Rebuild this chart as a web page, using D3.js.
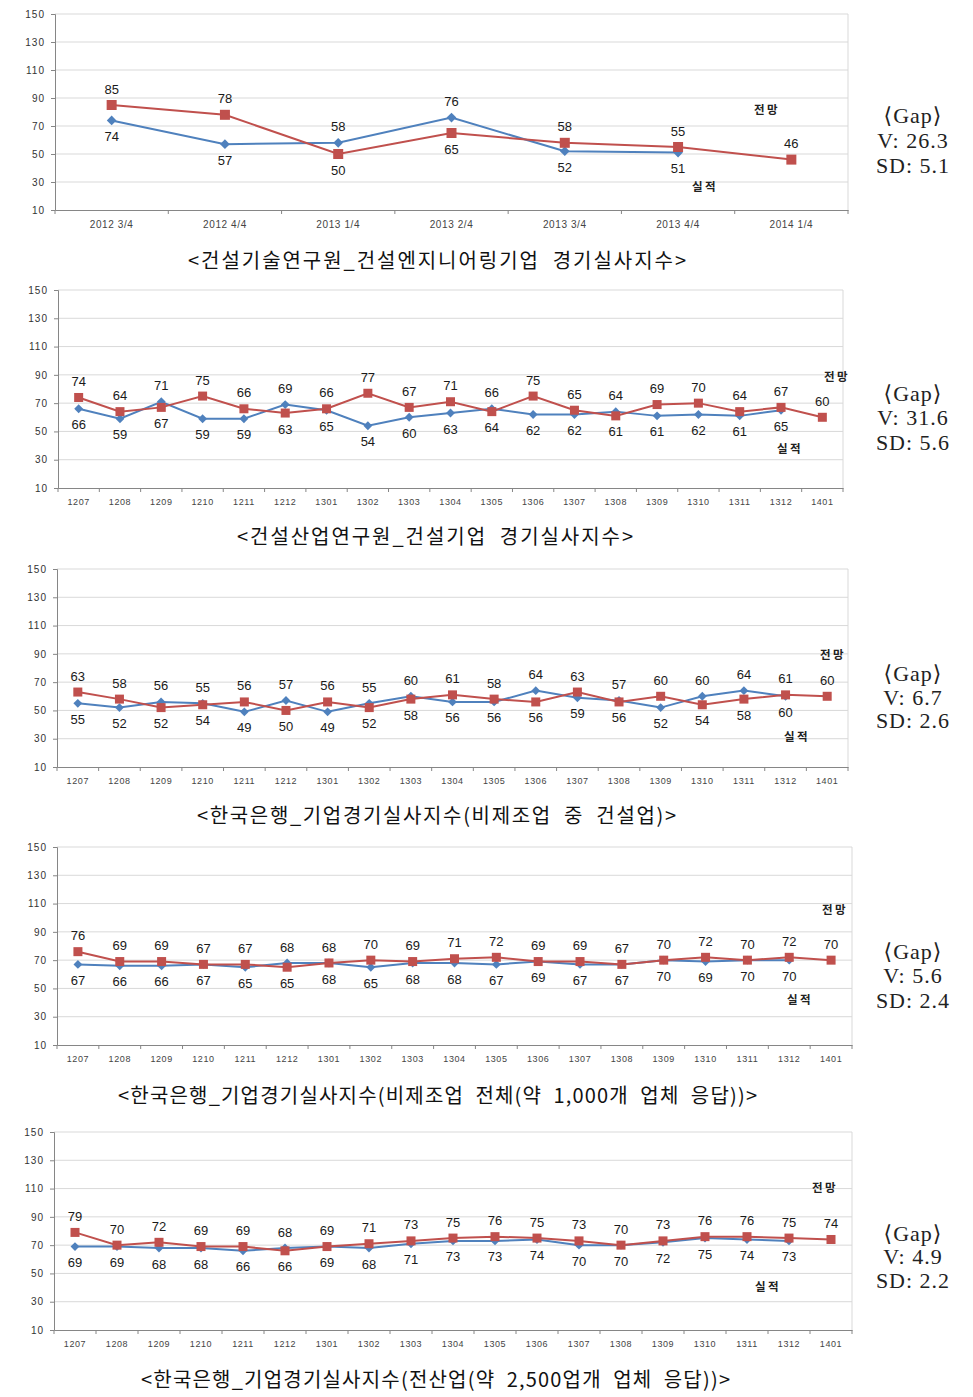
<!DOCTYPE html>
<html><head><meta charset="utf-8">
<script src="https://cdn.jsdelivr.net/npm/d3@7"></script>
<style>body{margin:0;background:#fff}</style>
</head><body><svg id="c" width="973" height="1397"></svg>
<script>
// ---------- DATA ----------
const quarters = ["2012 3/4","2012 4/4","2013 1/4","2013 2/4","2013 3/4","2013 4/4","2014 1/4"];
const months = ["1207","1208","1209","1210","1211","1212","1301","1302","1303","1304","1305","1306","1307","1308","1309","1310","1311","1312","1401"];
const yTicks = [10,30,50,70,90,110,130,150];

const p1Forecast = [85,78,50,65,58,55,46];
const p1Actual   = [74,57,58,76,52,51];

const p2Forecast = [74,64,67,75,66,63,66,77,67,71,64,75,65,61,69,70,64,67,60];
const p2Actual   = [66,59,71,59,59,69,65,54,60,63,66,62,62,64,61,62,61,65];

const p3Forecast = [63,58,52,54,56,50,56,52,58,61,58,56,63,56,60,54,58,61,60];
const p3Actual   = [55,52,56,55,49,57,49,55,60,56,56,64,59,57,52,60,64,60];

const p4Forecast = [76,69,69,67,67,65,68,70,69,71,72,69,69,67,70,72,70,72,70];
const p4Actual   = [67,66,66,67,65,68,68,65,68,68,67,69,67,67,70,69,70,70];

const p5Forecast = [79,70,72,69,69,66,69,71,73,75,76,75,73,70,73,76,76,75,74];
const p5Actual   = [69,69,68,68,66,68,69,68,71,73,73,74,70,70,72,75,74,73];

const captions = [
  "<건설기술연구원_건설엔지니어링기업  경기실사지수>",
  "<건설산업연구원_건설기업  경기실사지수>",
  "<한국은행_기업경기실사지수(비제조업  중  건설업)>",
  "<한국은행_기업경기실사지수(비제조업  전체(약  1,000개  업체  응답))>",
  "<한국은행_기업경기실사지수(전산업(약  2,500업개  업체  응답))>"
];
const gapV  = ["26.3","31.6","6.7","5.6","4.9"];
const gapSD = ["5.1","5.6","2.6","2.4","2.2"];
const seriesNames = ["전망","실적"];

// ---------- LAYOUT ----------
const panels = [
  {cats:quarters, fc:p1Forecast, ac:p1Actual, x0:55, x1:848, yTop:14,  yBot:210, capY:261,  cap:[188,686], fcL:[767,110],  acL:[705,187],  gapY:[115,140,165], tickFont:10},
  {cats:months,   fc:p2Forecast, ac:p2Actual, x0:58, x1:843, yTop:290, yBot:488, capY:537,  cap:[237,633], fcL:[837,377],  acL:[790,449],  gapY:[393,417,442], tickFont:9},
  {cats:months,   fc:p3Forecast, ac:p3Actual, x0:57, x1:848, yTop:569, yBot:767, capY:816,  cap:[197,676], fcL:[833,655],  acL:[797,737],  gapY:[673,697,720], tickFont:9},
  {cats:months,   fc:p4Forecast, ac:p4Actual, x0:57, x1:852, yTop:847, yBot:1045,capY:1096, cap:[118,757], fcL:[835,910],  acL:[800,1000], gapY:[951,975,1000], tickFont:9},
  {cats:months,   fc:p5Forecast, ac:p5Actual, x0:54, x1:852, yTop:1132,yBot:1330,capY:1380, cap:[141,730], fcL:[825,1188], acL:[768,1287], gapY:[1233,1256,1280], tickFont:9}
];

const RED = "#C0504D", BLUE = "#4F81BD";
const svg = d3.select("#c");
const numFont = "'Liberation Sans', Arial, sans-serif";

panels.forEach((p, i) => {
  const g = svg.append("g");
  const x = d3.scaleBand().domain(p.cats).range([p.x0, p.x1]);
  const cx = c => x(c) + x.bandwidth()/2;
  const y = d3.scaleLinear().domain([10,150]).range([p.yBot, p.yTop]);

  // grid
  g.append("g").selectAll("line").data(yTicks.filter(t => t > 10)).join("line")
    .attr("x1", p.x0).attr("x2", p.x1).attr("y1", d => y(d)).attr("y2", d => y(d))
    .attr("stroke", "#d9d9d9").attr("stroke-width", 1);
  g.append("line").attr("x1", p.x1).attr("x2", p.x1).attr("y1", p.yTop).attr("y2", p.yBot)
    .attr("stroke", "#d9d9d9");

  // y axis
  const ya = g.append("g").attr("transform", `translate(${p.x0},0)`)
    .call(d3.axisLeft(y).tickValues(yTicks).tickSize(4).tickPadding(6));
  ya.select(".domain").attr("stroke", "#868686");
  ya.selectAll(".tick line").attr("stroke", "#868686");
  ya.selectAll(".tick text").attr("font-family", numFont).attr("font-size", 10)
    .attr("letter-spacing", 1).attr("fill", "#333");

  // x axis
  const xa = g.append("g").attr("transform", `translate(0,${p.yBot})`)
    .call(d3.axisBottom(x).tickSize(0).tickPadding(11));
  xa.select(".domain").attr("stroke", "#868686");
  xa.selectAll(".tick text").attr("font-family", numFont).attr("font-size", p.tickFont)
    .attr("letter-spacing", 0.6).attr("fill", "#444");
  const bounds = p.cats.map(c => x(c)).concat([p.x1]);
  xa.append("g").selectAll("line").data(bounds).join("line")
    .attr("x1", d => d).attr("x2", d => d).attr("y1", 0).attr("y2", 4)
    .attr("stroke", "#868686");

  // lines
  const line = d3.line().x((d, k) => cx(p.cats[k])).y(d => y(d));
  g.append("path").datum(p.ac).attr("d", line).attr("fill", "none")
    .attr("stroke", BLUE).attr("stroke-width", 2);
  g.append("path").datum(p.fc).attr("d", line).attr("fill", "none")
    .attr("stroke", RED).attr("stroke-width", 2);

  // markers
  const ms = i === 0 ? 10 : 9;
  g.append("g").selectAll("path").data(p.ac).join("path")
    .attr("d", d3.symbol(d3.symbolDiamond2, i === 0 ? 60 : 50)())
    .attr("transform", (d, k) => `translate(${cx(p.cats[k])},${y(d)})`)
    .attr("fill", BLUE);
  g.append("g").selectAll("rect").data(p.fc).join("rect")
    .attr("x", (d, k) => cx(p.cats[k]) - ms/2).attr("y", d => y(d) - ms/2)
    .attr("width", ms).attr("height", ms).attr("fill", RED);

  // data labels
  const labels = [];
  p.cats.forEach((c, k) => {
    const f = p.fc[k], a = p.ac[k];
    if (a === undefined) { labels.push({c, v:f, up:true}); return; }
    if (a > f) { labels.push({c, v:a, up:true}); labels.push({c, v:f, up:false}); }
    else { labels.push({c, v:f, up:true}); labels.push({c, v:a, up:false}); }
  });
  g.append("g").selectAll("text").data(labels).join("text")
    .attr("x", d => cx(d.c)).attr("y", d => y(d.v) + (d.up ? -16 : 16))
    .attr("dy", "0.35em").attr("text-anchor", "middle")
    .attr("font-family", numFont).attr("font-size", 13).attr("fill", "#1a1a1a")
    .text(d => d.v);

  // series names
  [[seriesNames[0], p.fcL], [seriesNames[1], p.acL]].forEach(([t, pos]) => {
    g.append("text").attr("x", pos[0]).attr("y", pos[1]).attr("dy", "0.35em")
      .attr("text-anchor", "middle").attr("font-family", "'Noto Sans CJK KR', sans-serif")
      .attr("font-weight", 700).attr("font-size", 11.5).attr("letter-spacing", 2.5)
      .attr("fill", "#222").text(t);
  });

  // caption
  g.append("text").attr("x", p.cap[0]).attr("y", p.capY).attr("dy", "0.35em")
    .attr("font-family", "'Noto Sans CJK KR', sans-serif").attr("font-weight", 400)
    .attr("font-size", 20).attr("fill", "#111")
    .attr("textLength", p.cap[1] - p.cap[0]).attr("lengthAdjust", "spacing")
    .style("white-space", "pre").text(captions[i]);

  // gap box
  const gapLines = ["⟨Gap⟩", "V: " + gapV[i], "SD: " + gapSD[i]];
  gapLines.forEach((t, k) => {
    g.append("text").attr("x", 913).attr("y", p.gapY[k]).attr("dy", "0.35em")
      .attr("text-anchor", "middle")
      .attr("font-family", "'Liberation Serif', 'DejaVu Serif', serif")
      .attr("font-size", 22).attr("letter-spacing", 1).attr("fill", "#222")
      .style("white-space", "pre").text(t);
  });
});
</script></body></html>
